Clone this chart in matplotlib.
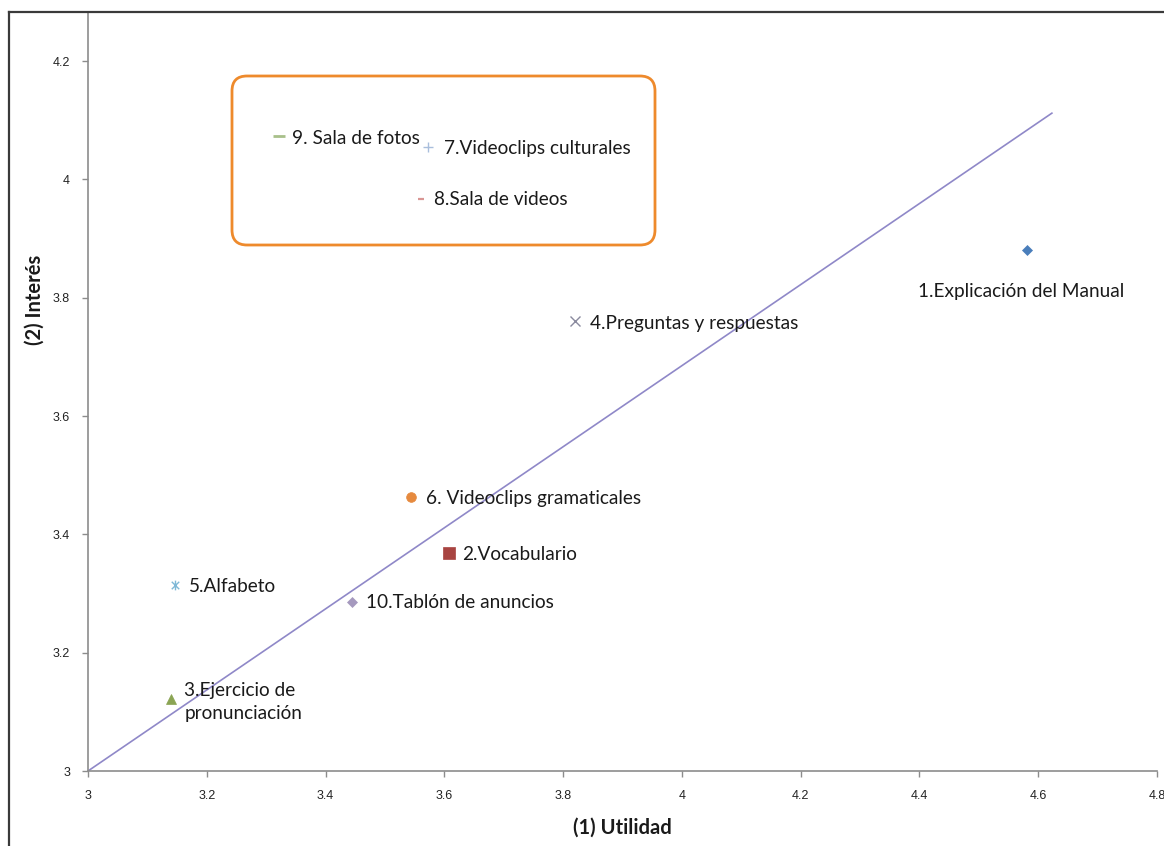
import matplotlib.pyplot as plt
from matplotlib.patches import FancyBboxPatch
from matplotlib.path import Path
from matplotlib.lines import Line2D

# Data
labels = [
    "1.Explicación del Manual",
    "2.Vocabulario",
    "3.Ejercicio de\npronunciación",
    "4.Preguntas y respuestas",
    "5.Alfabeto",
    "6. Videoclips gramaticales",
    "7.Videoclips culturales",
    "8.Sala de videos",
    "9. Sala de fotos",
    "10.Tablón de anuncios",
]
utilidad = [4.581, 3.608, 3.140, 3.820, 3.146, 3.544, 3.572, 3.561, 3.322, 3.445]
interes = [3.880, 3.368, 3.122, 3.760, 3.314, 3.463, 4.055, 3.967, 4.073, 3.286]

trend_x = [3.0, 4.623]
trend_y = [3.0, 4.112]

x_ticks = [3, 3.2, 3.4, 3.6, 3.8, 4, 4.2, 4.4, 4.6, 4.8]
x_ticklabels = ["3", "3.2", "3.4", "3.6", "3.8", "4", "4.2", "4.4", "4.6", "4.8"]
y_ticks = [3, 3.2, 3.4, 3.6, 3.8, 4, 4.2]
y_ticklabels = ["3", "3.2", "3.4", "3.6", "3.8", "4", "4.2"]

# asterisk marker (x plus vertical bar)
asterisk = Path([(-1, -1), (1, 1), (-1, 1), (1, -1), (0, -1.3), (0, 1.3)],
                [Path.MOVETO, Path.LINETO, Path.MOVETO, Path.LINETO, Path.MOVETO, Path.LINETO])

# marker style per point: (marker, colour, size, edge width)
styles = [
    ("D", "#4A7EBB", 5.5, 0.5),
    ("s", "#A84441", 8, 0.5),
    ("^", "#8AA453", 7.5, 0.5),
    ("x", "#8A8A9E", 7, 1.0),
    (asterisk, "#7FB8D6", 7, 1.0),
    ("o", "#E68A3E", 7, 0.5),
    ("+", "#A9BEDC", 7.5, 1.0),
    ("_", "#D99694", 4, 1.6),
    ("_", "#A8C08A", 9, 2.0),
    ("D", "#A599BE", 5, 0.5),
]

# label offsets from marker (pixels) and alignment
offsets = [(-6, -41, "center"), (13, -1, "left"), (13, -3, "left"), (15, -2, "left"),
           (14, -1, "left"), (15, -1, "left"), (16, -2, "left"), (13, -1, "left"),
           (13, -2, "left"), (14, -1, "left")]

fig = plt.figure(figsize=(11.64, 8.46), dpi=100)
ax = fig.add_axes([88 / 1164, 1 - 771 / 846, (1157 - 88) / 1164, (771 - 12) / 846])

ax.plot(trend_x, trend_y, color="#8F88C8", linewidth=1.2, zorder=2)

for i in range(len(labels)):
    m, c, s, w = styles[i]
    ax.plot([utilidad[i]], [interes[i]], linestyle="none", marker=m, color=c,
            markersize=s, markeredgewidth=w, zorder=3)
    dx, dy, ha = offsets[i]
    ax.annotate(labels[i], (utilidad[i], interes[i]), xytext=(dx * 0.72, dy * 0.72),
                textcoords="offset points", ha=ha, va="center", fontsize=13.7,
                family="Lato", color="#1a1a1a", linespacing=1.45)

ax.set_xlim(3, 4.8)
ax.set_ylim(3, 4.283)
ax.set_xticks(x_ticks)
ax.set_xticklabels(x_ticklabels)
ax.set_yticks(y_ticks)
ax.set_yticklabels(y_ticklabels)
for sp in ["top", "right"]:
    ax.spines[sp].set_visible(False)
for sp in ["left", "bottom"]:
    ax.spines[sp].set_color("#8c8c8c")
    ax.spines[sp].set_linewidth(1.2)
ax.tick_params(axis="both", colors="#8c8c8c", length=4, width=1, labelsize=9,
               labelcolor="#222222")
ax.tick_params(axis="x", pad=10)
ax.tick_params(axis="y", pad=9)
for t in ax.get_xticklabels() + ax.get_yticklabels():
    t.set_family("Liberation Sans")

fig.text(622 / 1164, 1 - 828 / 846, "(1) Utilidad", ha="center", va="center",
         fontsize=14.5, fontweight="bold", family="Lato", color="#1a1a1a")
fig.text(35 / 1164, 1 - 300 / 846, "(2) Interés", ha="center", va="center",
         rotation=90, fontsize=14.5, fontweight="bold", family="Lato", color="#1a1a1a")

# orange rounded box around the top cluster
box = FancyBboxPatch((2.32, (846 - 245) / 100), 6.55 - 2.32, (245 - 76) / 100,
                     boxstyle="round,pad=0,rounding_size=0.15",
                     transform=fig.dpi_scale_trans, facecolor="none",
                     edgecolor="#EE8A2C", linewidth=2)
fig.add_artist(box)

# outer frame (top and left edges visible)
fig.add_artist(Line2D([9 / 1164, 9 / 1164], [0, 1 - 12 / 846], transform=fig.transFigure,
                      color="#3a3a3a", linewidth=1.6))
fig.add_artist(Line2D([9 / 1164, 1], [1 - 12 / 846, 1 - 12 / 846], transform=fig.transFigure,
                      color="#3a3a3a", linewidth=1.6))

fig.savefig("out.png", dpi=100)
